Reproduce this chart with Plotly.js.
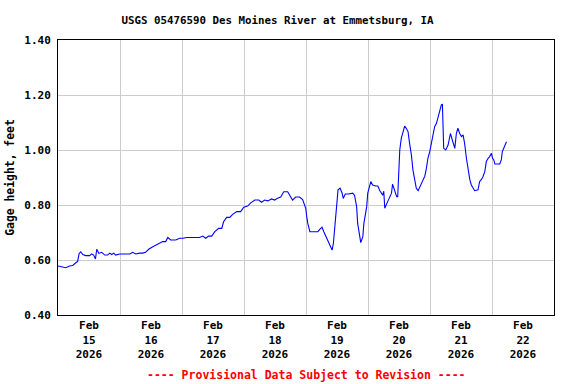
<!DOCTYPE html>
<html>
<head>
<meta charset="utf-8">
<script src="https://cdn.plot.ly/plotly-3.0.1.min.js"></script>
<style>html,body{margin:0;padding:0;background:#fff;}#chart{width:576px;height:384px;}</style>
</head>
<body>
<div id="chart"></div>
<script>
// Hours since 2026-02-15 00:00
const startDate = '2026-02-15T00:00:00Z';
const hours = [
  0.0, 1.4, 3.0, 4.5, 5.7, 6.9, 7.6, 8.2, 8.8, 9.6, 10.7, 12.3, 13.0, 13.8, 14.5, 15.0, 15.8, 16.9,
  18.1, 19.2, 20.0, 20.8, 21.6, 22.3, 23.9, 25.8, 27.8, 28.9, 30.1, 31.6, 32.8, 33.9, 35.1, 36.7,
  38.6, 40.5, 41.7, 42.5, 43.6, 45.6, 47.1, 48.3, 49.8, 52.1, 54.8, 56.0, 57.2, 58.3, 59.5, 60.7,
  62.2, 63.4, 64.1, 65.3, 66.5, 67.6, 69.2, 70.7, 71.9, 73.4, 74.6, 76.2, 77.7, 78.8, 80.0, 81.2,
  82.7, 83.9, 85.0, 86.2, 87.4, 88.9, 89.7, 90.8, 92.0, 93.5, 94.7, 95.9, 96.3, 96.7, 97.5, 99.1,
  100.6, 101.4, 102.2, 102.9, 103.7, 104.5, 105.3, 106.1, 106.6, 107.2, 108.0, 108.4, 109.2, 110.0,
  110.4, 111.2, 112.5, 114.1, 114.8, 115.6, 116.0, 116.8, 117.2, 118.0, 118.4, 119.5, 119.9, 121.1,
  121.8, 123.0, 123.8, 124.6, 125.7, 126.1, 126.5, 127.3, 128.1, 129.1, 129.5, 130.3, 131.1, 131.5,
  131.9, 132.3, 132.9, 133.5, 134.2, 134.8, 135.5, 136.1, 136.8, 137.4, 138.1, 138.7, 139.4, 140.0,
  140.7, 141.3, 142.0, 142.6, 143.2, 143.9, 144.5, 145.2, 145.8, 146.5, 147.1, 147.8, 148.4, 148.8,
  149.0, 149.3, 150.1, 151.0, 151.9, 152.4, 152.9, 153.6, 154.2, 154.8, 155.5, 156.2, 156.8, 157.4,
  158.1, 158.7, 159.4, 160.0, 160.6, 161.3, 162.6, 163.2, 163.9, 164.5, 165.2, 165.8, 166.5, 167.1,
  167.8, 168.2, 168.7, 169.1, 171.0, 171.6, 172.0, 172.5, 173.0, 173.6
];
const gageHeight = [
  0.578, 0.575, 0.572, 0.578, 0.580, 0.590, 0.595, 0.624, 0.630, 0.620, 0.616, 0.616, 0.622, 0.618, 0.604, 0.639, 0.624, 0.628,
  0.618, 0.618, 0.625, 0.620, 0.625, 0.618, 0.622, 0.622, 0.622, 0.628, 0.622, 0.625, 0.625, 0.628, 0.639, 0.648,
  0.657, 0.667, 0.667, 0.682, 0.673, 0.673, 0.679, 0.679, 0.682, 0.682, 0.682, 0.687, 0.679, 0.687, 0.687, 0.703,
  0.715, 0.715, 0.739, 0.755, 0.755, 0.766, 0.776, 0.776, 0.792, 0.796, 0.808, 0.818, 0.818, 0.810, 0.818, 0.815,
  0.822, 0.818, 0.825, 0.829, 0.848, 0.848, 0.836, 0.818, 0.829, 0.829, 0.820, 0.788, 0.757, 0.733, 0.703, 0.703,
  0.703, 0.712, 0.719, 0.703, 0.685, 0.667, 0.648, 0.636, 0.660, 0.733, 0.806, 0.855, 0.861, 0.843,
  0.824, 0.840, 0.840, 0.843, 0.835, 0.794, 0.733, 0.673, 0.663, 0.685, 0.733, 0.794, 0.843, 0.885,
  0.873, 0.869, 0.869, 0.852, 0.836, 0.850, 0.788, 0.806, 0.821, 0.843, 0.876, 0.850, 0.830, 0.830,
  0.933, 1.000, 1.043, 1.060, 1.087, 1.079, 1.067, 1.024, 0.982, 0.927, 0.885, 0.861, 0.852, 0.864,
  0.879, 0.885, 0.905, 0.933, 0.970, 0.994, 1.024, 1.055, 1.085, 1.097, 1.121, 1.139, 1.164, 1.167,
  1.076, 1.006, 1.000, 1.018, 1.060, 1.043, 1.030, 1.006, 1.060, 1.079, 1.060, 1.049, 1.055, 1.024,
  0.970, 0.927, 0.893, 0.873, 0.864, 0.852, 0.855, 0.885, 0.893, 0.903, 0.921, 0.958, 0.970, 0.976,
  0.988, 0.970, 0.964, 0.949, 0.949, 0.964, 0.994, 1.006, 1.021, 1.030
];
const yTickVals = [0.4, 0.6, 0.8, 1.0, 1.2, 1.4];
const xRange = ['2026-02-15 00:00', '2026-02-23 00:00'];
const titleText = 'USGS 05476590 Des Moines River at Emmetsburg, IA';
const yTitle = 'Gage height, feet';
const footerText = '---- Provisional Data Subject to Revision ----';

const base = Date.parse(startDate);
const times = hours.map(h => new Date(base + h * 3600000).toISOString().replace('T', ' ').slice(0, 19));

const FONT = '"DejaVu Sans Mono", "Liberation Mono", monospace';

const trace = {
  x: times,
  y: gageHeight,
  type: 'scatter',
  mode: 'lines',
  line: {color: '#0000ff', width: 1.1},
  hoverinfo: 'skip'
};

const layout = {
  width: 576,
  height: 384,
  margin: {l: 58, r: 22, t: 40, b: 69, pad: 0},
  paper_bgcolor: '#ffffff',
  plot_bgcolor: '#ffffff',
  showlegend: false,
  title: {
    text: titleText,
    font: {family: FONT, size: 10.8, color: '#000000', weight: 'bold'},
    xref: 'paper', x: 0.4425, xanchor: 'center',
    yref: 'container', y: 1 - 20.5 / 384, yanchor: 'middle'
  },
  xaxis: {
    type: 'date',
    range: xRange,
    tick0: '2026-02-15',
    dtick: 86400000,
    ticklabelmode: 'period',
    tickformat: '%b<br>%d<br>%Y',
    ticks: '',
    showgrid: true,
    gridcolor: '#cccccc',
    gridwidth: 1,
    showline: true,
    mirror: true,
    linecolor: '#000000',
    linewidth: 1,
    zeroline: false,
    tickfont: {family: FONT, size: 11, color: '#000000', weight: 'bold'}
  },
  yaxis: {
    range: [0.4, 1.4],
    tickvals: yTickVals,
    tickformat: '.2f',
    ticks: '',
    showgrid: true,
    gridcolor: '#cccccc',
    gridwidth: 1,
    showline: true,
    mirror: true,
    linecolor: '#000000',
    linewidth: 1,
    zeroline: false,
    ticklabelstandoff: 4,
    tickfont: {family: FONT, size: 11, color: '#000000', weight: 'bold'},
    title: {
      text: yTitle,
      font: {family: FONT, size: 11.4, color: '#000000', weight: 'bold'},
      standoff: 7
    }
  },
  annotations: [{
    text: footerText,
    xref: 'paper', x: 0.5, xanchor: 'center',
    yref: 'paper', y: (315 - 375) / 275, yanchor: 'middle',
    showarrow: false,
    font: {family: FONT, size: 11.5, color: '#ff0000', weight: 'bold'}
  }]
};

Plotly.newPlot('chart', [trace], layout, {displayModeBar: false, staticPlot: true});
</script>
</body>
</html>
